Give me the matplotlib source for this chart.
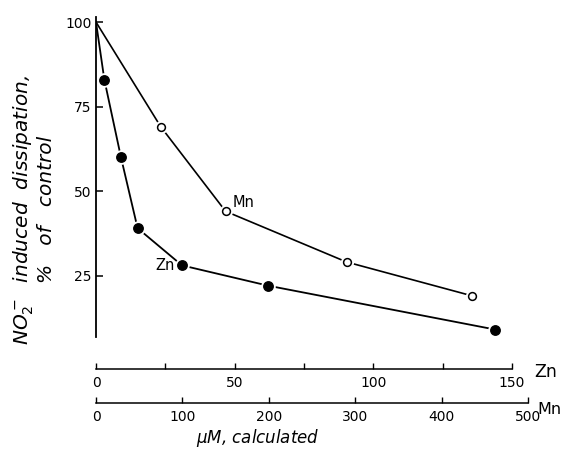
import matplotlib
matplotlib.use("Agg")
import matplotlib.pyplot as plt
from matplotlib.ticker import MultipleLocator

# inhibition of NO2- induced dissipation by Zn and Mn
zn_conc = [0, 3, 9, 15, 31, 62, 144]
zn_pct = [100, 83, 60, 39, 28, 22, 9]
mn_conc = [0, 75, 150, 290, 435]
mn_pct = [100, 69, 44, 29, 19]

y_ticks = [25, 50, 75, 100]
zn_ticks = [0, 50, 100, 150]
mn_ticks = [0, 100, 200, 300, 400, 500]

W, H = 581, 459
fig = plt.figure(figsize=(W / 100, H / 100), dpi=100)


def fx(x):
    return x / W


def fy(y):
    return 1 - y / H


ax = fig.add_axes([fx(96), fy(337), (528 - 96) / W, (337 - 17) / H])
ax.set_ylim(6.8, 101.5)
ax.set_xlim(0, 155.8)
ax.patch.set_visible(False)
for s in ["top", "right"]:
    ax.spines[s].set_visible(False)
ax.spines["left"].set_linewidth(1.3)
ax.spines["bottom"].set_position(("outward", 23))
ax.spines["bottom"].set_bounds(0, 150)
ax.spines["bottom"].set_linewidth(1.1)

ax.set_yticks(y_ticks)
ax.tick_params(axis="y", direction="in", length=5, width=1.1, pad=3, labelsize=10)
ax.set_xticks(zn_ticks)
ax.xaxis.set_minor_locator(MultipleLocator(25))
ax.tick_params(axis="x", which="both", direction="in", length=4.5, width=1.0,
               pad=5, labelsize=10)

# Mn concentration scale, second line below the Zn one
ax2 = ax.twiny()
ax2.set_xlim(0, 500)
ax2.patch.set_visible(False)
for s in ["top", "right", "left"]:
    ax2.spines[s].set_visible(False)
ax2.xaxis.set_ticks_position("bottom")
ax2.spines["bottom"].set_position(("outward", 47.5))
ax2.spines["bottom"].set_linewidth(1.1)
ax2.set_xticks(mn_ticks)
ax2.tick_params(axis="x", direction="in", length=4.5, width=1.0, pad=5, labelsize=10)

# Zn: filled circles
ax.plot(zn_conc, zn_pct, "-", color="black", lw=1.3, zorder=2)
ax.plot(zn_conc[1:], zn_pct[1:], "o", ms=9.5, color="white", zorder=3)
ax.plot(zn_conc[1:], zn_pct[1:], "o", ms=6.8, color="black", zorder=4)

# Mn: open circles
ax2.plot(mn_conc, mn_pct, "-", color="black", lw=1.2, zorder=2)
ax2.plot(mn_conc[1:], mn_pct[1:], "o", ms=8.5, color="white", zorder=3)
ax2.plot(mn_conc[1:], mn_pct[1:], "o", ms=5.6, mfc="white", mec="black",
         mew=1.1, zorder=4)

ax.annotate("Zn", (zn_conc[4], zn_pct[4]), xytext=(-5, 0), textcoords="offset points",
            ha="right", va="center", fontsize=10.5)
ax2.annotate("Mn", (mn_conc[2], mn_pct[2]), xytext=(5, 1), textcoords="offset points",
             ha="left", va="bottom", fontsize=10.5)

fig.text(fx(534), fy(372), "Zn", fontsize=12.5, ha="left", va="center")
fig.text(fx(537), fy(409), "Mn", fontsize=11.5, ha="left", va="center")

fig.text(fx(258), fy(438), r"$\mu$M, calculated", fontsize=12, style="italic",
         ha="center", va="center")
fig.text(fx(24), fy(210), r"$\it{NO}_2^-$  induced  dissipation,", fontsize=14.5,
         style="italic", rotation=90, ha="center", va="center")
fig.text(fx(47), fy(209), "%   of   control", fontsize=14.5, style="italic",
         rotation=90, ha="center", va="center")

fig.savefig("out.png", dpi=100)
